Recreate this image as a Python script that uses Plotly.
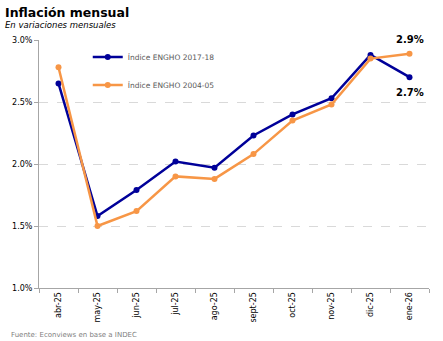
import plotly.graph_objects as go

categorias = ["abr-25", "may-25", "jun-25", "jul-25", "ago-25", "sept-25", "oct-25", "nov-25", "dic-25", "ene-26"]
engho_2017 = [2.65, 1.58, 1.79, 2.02, 1.97, 2.23, 2.40, 2.53, 2.88, 2.70]
engho_2004 = [2.78, 1.50, 1.62, 1.90, 1.88, 2.08, 2.35, 2.48, 2.85, 2.89]
yticks = [1.0, 1.5, 2.0, 2.5, 3.0]

AZUL = "#000099"
NARANJA = "#F79646"
FONT = "DejaVu Sans"

fig = go.Figure()
fig.add_trace(go.Scatter(x=categorias, y=engho_2017, mode="lines+markers", name="Índice ENGHO 2017-18",
                         line=dict(color=AZUL, width=2.5), marker=dict(size=6, color=AZUL), legendgroup="a"))
fig.add_trace(go.Scatter(x=categorias, y=engho_2004, mode="lines+markers", name="Índice ENGHO 2004-05",
                         line=dict(color=NARANJA, width=2.5), marker=dict(size=6, color=NARANJA), legendgroup="b"))

fig.add_annotation(x=categorias[-1], y=engho_2004[-1], text="<b>%.1f%%</b>" % engho_2004[-1], showarrow=False,
                   yshift=14, font=dict(family=FONT, size=10, color="black"))
fig.add_annotation(x=categorias[-1], y=engho_2017[-1], text="<b>%.1f%%</b>" % engho_2017[-1], showarrow=False,
                   yshift=-15, font=dict(family=FONT, size=10, color="black"))

fig.add_annotation(xref="paper", yref="paper", x=-36/392, y=1 + 37/248, xanchor="left", yanchor="top",
                   text="<b>Inflación mensual</b>", showarrow=False, font=dict(family=FONT, size=12.5, color="black"))
fig.add_annotation(xref="paper", yref="paper", x=-36/392, y=1 + 22/248, xanchor="left", yanchor="top",
                   text="<i>En variaciones mensuales</i>", showarrow=False, font=dict(family=FONT, size=8.5, color="black"))
fig.add_annotation(xref="paper", yref="paper", x=-30/392, y=-53/248, xanchor="left", yanchor="bottom",
                   text="Fuente: Econviews en base a INDEC", showarrow=False, font=dict(family=FONT, size=7, color="#808080"))

fig.update_layout(
    width=443, height=341,
    margin=dict(l=37, r=14, t=40, b=53),
    paper_bgcolor="white", plot_bgcolor="white",
    font=dict(family=FONT, size=8, color="black"),
    showlegend=True,
    legend=dict(x=0.125, y=0.99, xanchor="left", yanchor="top", bgcolor="rgba(0,0,0,0)",
                font=dict(family=FONT, size=7.5, color="#595959"), tracegroupgap=9, itemwidth=30),
    xaxis=dict(type="category", tickangle=-90, showgrid=False, showline=True, linecolor="#A6A6A6", linewidth=1,
               ticks="outside", tickson="boundaries", ticklen=4, tickcolor="#A6A6A6",
               tickfont=dict(family=FONT, size=8, color="black"), range=[-0.5, 9.5]),
    yaxis=dict(range=[1.0, 3.0], tickvals=yticks, ticktext=["%.1f%%" % v for v in yticks],
               showgrid=True, gridcolor="#D9D9D9", griddash="dash", gridwidth=1,
               showline=True, linecolor="#A6A6A6", linewidth=1, ticks="outside", ticklen=4, tickcolor="#A6A6A6",
               tickfont=dict(family=FONT, size=8, color="black"), zeroline=False),
)

fig.write_html("out.html")
